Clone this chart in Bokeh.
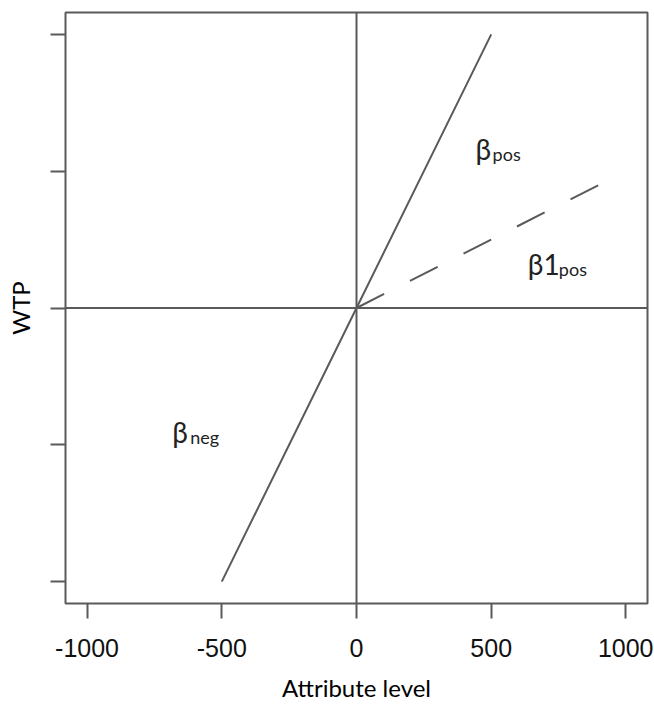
from bokeh.plotting import figure
from bokeh.models import Range1d, Span, FixedTicker, ColumnDataSource
from bokeh.core.properties import value
from bokeh.embed import file_html
from bokeh.resources import INLINE

# Data
x_ticks = [-1000, -500, 0, 500, 1000]
x_tick_labels = ["-1000", "-500", "0", "500", "1000"]
y_ticks = [-2, -1, 0, 1, 2]
solid_x = [-500, 0, 500]
solid_y = [-2, 0, 2]
dash_x = [0, 900]
dash_y = [0, 0.9]
label_main = ["β", "β1", "β"]
label_sub = ["pos", "pos", "neg"]
label_x = [442, 636, -684]
label_y = [1.16, 0.32, -0.91]
sub_offset = [17, 31, 18]

GRAY = "#5a5a5a"

p = figure(width=653, height=704, output_backend="svg", toolbar_location=None,
           x_range=Range1d(-1080, 1080), y_range=Range1d(-2.16, 2.16),
           min_border_left=65, min_border_right=6, min_border_top=12, min_border_bottom=99)
p.xgrid.visible = False
p.ygrid.visible = False
p.outline_line_color = GRAY
p.outline_line_width = 2
p.background_fill_color = "white"

p.xaxis.ticker = FixedTicker(ticks=x_ticks)
p.xaxis.major_label_overrides = dict(zip(x_ticks, x_tick_labels))
p.yaxis.ticker = FixedTicker(ticks=y_ticks)
p.yaxis.major_label_overrides = {t: "" for t in y_ticks}
p.yaxis.major_label_text_font_size = "1px"
for ax in (p.xaxis[0], p.yaxis[0]):
    ax.axis_line_color = None
    ax.major_tick_line_color = GRAY
    ax.major_tick_line_width = 2
    ax.major_tick_in = 0
    ax.major_tick_out = 15
    ax.minor_tick_line_color = None
    ax.axis_label_text_font = "Lato"
    ax.axis_label_text_font_style = "normal"
    ax.axis_label_text_font_size = "24px"
    ax.axis_label_text_color = "black"

p.xaxis.major_label_text_font = "Liberation Sans"
p.xaxis.major_label_text_font_size = "25px"
p.xaxis.major_label_text_color = "#111111"
p.xaxis.major_label_standoff = 20
p.xaxis.axis_label = "Attribute level"
p.xaxis.axis_label_standoff = 13
p.yaxis.axis_label = "WTP"
p.yaxis.axis_label_standoff = 16

p.add_layout(Span(location=0, dimension="height", line_color=GRAY, line_width=2))
p.add_layout(Span(location=0, dimension="width", line_color=GRAY, line_width=2))

p.line(solid_x, solid_y, line_color=GRAY, line_width=2)
p.line(dash_x, dash_y, line_color=GRAY, line_width=2, line_dash="31 29")

src = ColumnDataSource(dict(x=label_x, y=label_y, t=label_main, s=label_sub, o=sub_offset))
p.text(x="x", y="y", text="t", source=src, text_font=value("Lato"), text_font_size="28px",
       text_baseline="middle", text_align="left", text_color="#222222")
p.text(x="x", y="y", text="s", source=src, x_offset="o", y_offset=5, text_font=value("Lato"),
       text_font_size="18px", text_baseline="middle", text_align="left", text_color="#222222")

open("out.html", "w").write(file_html(p, INLINE))
